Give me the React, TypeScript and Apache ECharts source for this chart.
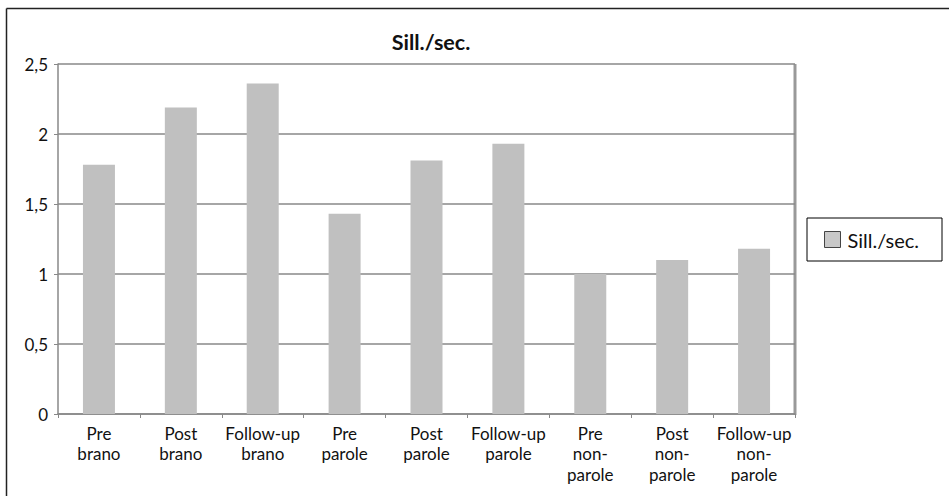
import React, { useEffect, useRef } from "react";
import * as echarts from "echarts";

const categories = [
  "Pre\nbrano",
  "Post\nbrano",
  "Follow-up\nbrano",
  "Pre\nparole",
  "Post\nparole",
  "Follow-up\nparole",
  "Pre\nnon-\nparole",
  "Post\nnon-\nparole",
  "Follow-up\nnon-\nparole",
];
const values = [1.78, 2.19, 2.36, 1.43, 1.81, 1.93, 1.0, 1.1, 1.18];
const seriesName = "Sill./sec.";
const titleText = "Sill./sec.";

const FONT = "Lato, 'Noto Sans', sans-serif";

export default function App() {
  const ref = useRef<HTMLDivElement>(null);
  useEffect(() => {
    document.body.style.margin = "0";
    const chart = echarts.init(ref.current!, null, { renderer: "svg" });
    chart.setOption({
      animation: false,
      backgroundColor: "#ffffff",
      textStyle: { fontFamily: FONT },
      title: {
        text: titleText,
        left: 426,
        textAlign: "center",
        top: 26,
        textStyle: { fontFamily: FONT, fontWeight: "bold", fontSize: 21.5, color: "#111" },
      },
      legend: {
        left: 807,
        top: 218,
        orient: "vertical",
        borderColor: "#000",
        borderWidth: 1,
        padding: [11, 23, 11, 17],
        itemWidth: 16,
        itemHeight: 16,
        itemGap: 8,
        icon: "rect",
        itemStyle: { color: "#c8c8c8", borderColor: "#444", borderWidth: 1 },
        textStyle: { fontFamily: FONT, fontSize: 20, color: "#111", lineHeight: 21, padding: [0, 0, 0, 2] },
        data: [seriesName],
      },
      grid: { left: 58, right: 154, top: 64, bottom: 82, containLabel: false },
      xAxis: {
        type: "category",
        data: categories,
        axisLine: { show: true, lineStyle: { color: "#888", width: 1.5 } },
        axisTick: { show: true, alignWithLabel: false, length: 4, lineStyle: { color: "#888" } },
        axisLabel: {
          interval: 0,
          margin: 9,
          color: "#111",
          fontFamily: FONT,
          fontSize: 17,
          lineHeight: 20.5,
        },
        splitLine: { show: false },
      },
      yAxis: {
        type: "value",
        min: 0,
        max: 2.5,
        interval: 0.5,
        axisLine: { show: true, lineStyle: { color: "#888", width: 1.5 } },
        axisTick: { show: true, length: 4, lineStyle: { color: "#888" } },
        axisLabel: {
          margin: 10,
          color: "#111",
          fontFamily: FONT,
          fontSize: 17,
          formatter: (v: number) => String(v).replace(".", ","),
        },
        splitLine: { show: true, lineStyle: { color: "#888", width: 1.5 } },
      },
      series: [
        {
          name: seriesName,
          type: "bar",
          data: values,
          barWidth: 32,
          itemStyle: { color: "#c0c0c0" },
        },
      ],
      graphic: [
        {
          type: "line",
          shape: { x1: 6.5, y1: 8.5, x2: 960, y2: 8.5 },
          style: { stroke: "#222", lineWidth: 1.5 },
        },
        {
          type: "line",
          shape: { x1: 6.5, y1: 8.5, x2: 6.5, y2: 500 },
          style: { stroke: "#222", lineWidth: 1.5 },
        },
        {
          type: "line",
          shape: { x1: 795, y1: 64, x2: 795, y2: 415 },
          style: { stroke: "#999", lineWidth: 3 },
        },
      ],
    });
    return () => chart.dispose();
  }, []);
  return <div ref={ref} style={{ width: 949, height: 496 }} />;
}
